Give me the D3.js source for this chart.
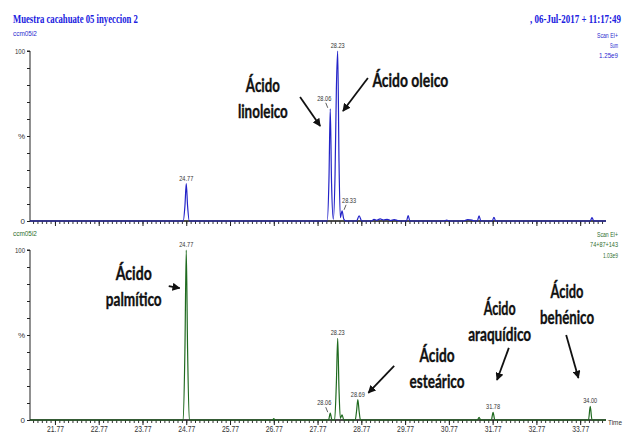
<!DOCTYPE html>
<html>
<head>
<meta charset="utf-8">
<script src="https://cdn.jsdelivr.net/npm/d3@7"></script>
<style>
  html, body { margin: 0; padding: 0; background: #fff; }
  svg { display: block; }
</style>
</head>
<body>
<svg id="chart" width="624" height="436"></svg>
<script>
// Chromatogram traces: [retention time (min), relative abundance (%)]
const ticTrace = [
  [21.20, 0], [24.70, 0], [24.74, 9], [24.77, 22], [24.80, 9], [24.84, 0],
  [27.99, 0], [28.03, 24], [28.06, 66], [28.09, 22], [28.13, 1],
  [28.17, 28], [28.20, 78], [28.23, 100], [28.26, 35], [28.29, 2],
  [28.33, 6], [28.37, 1], [28.42, 0],
  [28.66, 0], [28.72, 3], [28.78, 0],
  [29.00, 0], [29.06, 1], [29.12, 0.4], [29.20, 1.2], [29.28, 0.6], [29.36, 1], [29.44, 0.3],
  [29.52, 0.8], [29.60, 0.3], [29.70, 0],
  [29.80, 0], [29.84, 3.2], [29.88, 0],
  [30.66, 0], [30.72, 0.6], [30.78, 0],
  [31.10, 0], [31.20, 0.8], [31.30, 0.5], [31.36, 0],
  [31.42, 0], [31.46, 3], [31.50, 0],
  [31.76, 0], [31.80, 2.2], [31.84, 0],
  [34.00, 0], [34.04, 2], [34.08, 0], [34.36, 0]
];

const sirTrace = [
  [21.20, 0], [24.70, 0], [24.74, 42], [24.77, 100], [24.80, 42], [24.84, 0],
  [26.74, 0], [26.77, 0.8], [26.80, 0],
  [28.02, 0], [28.06, 4], [28.10, 0], [28.16, 0],
  [28.20, 22], [28.23, 48], [28.26, 18], [28.29, 1],
  [28.33, 3], [28.37, 0],
  [28.63, 0], [28.66, 5], [28.69, 12], [28.72, 5], [28.75, 0],
  [31.42, 0], [31.46, 1.5], [31.50, 0],
  [31.74, 0], [31.78, 4.5], [31.82, 0],
  [33.96, 0], [34.00, 8], [34.04, 0], [34.36, 0]
];

// Labelled peaks (time label, peak height %)
const ticPeaks = [
  { label: "24.77", t: 24.77, v: 22 },
  { label: "28.06", t: 28.06, v: 66, leader: true },
  { label: "28.23", t: 28.23, v: 100 },
  { label: "28.33", t: 28.33, v: 6, leader: true }
];
const sirPeaks = [
  { label: "24.77", t: 24.77, v: 100 },
  { label: "28.06", t: 28.06, v: 4, leader: true },
  { label: "28.23", t: 28.23, v: 48 },
  { label: "28.69", t: 28.69, v: 12 },
  { label: "31.78", t: 31.78, v: 4.5 },
  { label: "34.00", t: 34.00, v: 8 }
];

const timeTickLabels = ["21.77", "22.77", "23.77", "24.77", "25.77", "26.77", "27.77",
                        "28.77", "29.77", "30.77", "31.77", "32.77", "33.77"];

const titleText = "Muestra cacahuate 05 inyeccion 2";
const dateText = ", 06-Jul-2017 + 11:17:49";
const sampleId = "ccm05i2";
const ticInfo = ["Scan EI+", "Sum", "1.25e9"];
const sirInfo = ["Scan EI+", "74+87+143", "1.03e9"];

const svg = d3.select("#chart");
const smallFont = "'Liberation Sans', Arial, sans-serif";
const serifFont = "'Liberation Serif', 'Times New Roman', serif";
const boldFont = "Lato, 'Open Sans', sans-serif";

// Draws a text squeezed horizontally to a given width, anchored at (x, y)
function squeezed(parent, str, xPos, yPos, width, anchor, attrs) {
  const t = parent.append("text").attr("x", 0).attr("y", 0)
    .attr("text-anchor", anchor).text(str);
  Object.entries(attrs).forEach(([k, v]) => t.attr(k, v));
  const natural = t.node().getComputedTextLength();
  t.attr("transform", `translate(${xPos},${yPos}) scale(${width / natural},1)`);
  return t;
}

const x = d3.scaleLinear().domain([21.2, 34.36]).range([30, 606]);

const panels = [
  { trace: ticTrace, peaks: ticPeaks, info: ticInfo, color: "#2323c8", textColor: "#2b2bd0",
    y: d3.scaleLinear().domain([0, 100]).range([221, 51]), idY: 36, infoY: [38, 48, 58] },
  { trace: sirTrace, peaks: sirPeaks, info: sirInfo, color: "#1f6a1f", textColor: "#2e6e2e",
    y: d3.scaleLinear().domain([0, 100]).range([420, 250]), idY: 236, infoY: [237, 247, 258] }
];

// header
const headStyle = { "font-family": serifFont, "font-weight": "bold", "font-size": 12.5, fill: "#2020e0" };
squeezed(svg, titleText, 13, 23, 125, "start", headStyle);
squeezed(svg, dateText, 621, 23, 91, "end", headStyle);

const minorTicks = d3.range(0, 131).map(i => +(21.27 + i * 0.1).toFixed(2));
const majorTicks = timeTickLabels.map(Number);

panels.forEach((p, pi) => {
  const g = svg.append("g");

  // sample id and acquisition info
  const infoStyle = { "font-family": smallFont, "font-size": 8, fill: p.textColor };
  squeezed(g, sampleId, 13, p.idY, 24, "start", infoStyle);
  const infoW = pi === 0 ? [21, 8, 19] : [21, 28, 15];
  p.info.forEach((s, i) => squeezed(g, s, 618, p.infoY[i], infoW[i], "end", infoStyle));

  // y axis
  const yAxis = d3.axisLeft(p.y).tickValues(d3.range(0, 101, 10)).tickSize(3)
    .tickPadding(2)
    .tickFormat(d => d === 100 ? "100" : d === 50 ? "%" : d === 0 ? "0" : "");
  const ya = g.append("g").attr("transform", `translate(${x.range()[0]},0)`).call(yAxis);
  ya.select(".domain").attr("d", `M-3,${p.y(100)}H0V${p.y(0)}`).attr("stroke", "#222");
  ya.selectAll("line").attr("stroke", "#222");
  ya.selectAll("text").attr("font-family", smallFont).attr("font-size", 8)
    .attr("fill", "#333");
  ya.selectAll(".tick").filter(d => d === 100).select("text")
    .attr("textLength", 10).attr("lengthAdjust", "spacingAndGlyphs");

  // x axis: minor ticks every 0.1 min, labelled majors
  const base = p.y(0);
  const xMinor = g.append("g").attr("transform", `translate(0,${base})`)
    .call(d3.axisBottom(x).tickValues(minorTicks).tickSize(3).tickFormat(""));
  xMinor.select(".domain").attr("d", `M${x.range()[0]},0H${x.range()[1]}`).attr("stroke", "#111")
    .attr("stroke-width", 1.3);
  xMinor.selectAll("line").attr("stroke", "#333");
  const xMajor = g.append("g").attr("transform", `translate(0,${base})`)
    .call(d3.axisBottom(x).tickValues(majorTicks).tickSize(5)
      .tickFormat(pi === 1 ? (d => timeTickLabels[majorTicks.indexOf(d)]) : ""));
  xMajor.select(".domain").remove();
  xMajor.selectAll("line").attr("stroke", "#222");
  xMajor.selectAll("text").attr("font-family", smallFont).attr("font-size", 8.5)
    .attr("fill", "#333").attr("dy", "0.5em")
    .attr("textLength", 17).attr("lengthAdjust", "spacingAndGlyphs");

  // trace
  const line = d3.line().x(d => x(d[0])).y(d => p.y(d[1])).curve(d3.curveMonotoneX);
  g.append("path").datum(p.trace).attr("d", line)
    .attr("fill", "none").attr("stroke", p.color).attr("stroke-width", 1.2);

  // peak labels
  p.peaks.forEach(pk => {
    const px = x(pk.t), py = p.y(pk.v);
    let lx = px, ly = py - 3;
    if (pk.leader) {
      const dx = pk.t < 28.2 ? -6 : 7;
      lx = px + dx; ly = py - 8;
      g.append("line")
        .attr("x1", px + (dx < 0 ? -2.5 : 2)).attr("y1", py - 1)
        .attr("x2", px + (dx < 0 ? -4.5 : 4)).attr("y2", py - 6)
        .attr("stroke", "#333").attr("stroke-width", 0.8);
    }
    g.append("text").attr("x", lx).attr("y", ly).attr("text-anchor", "middle")
      .attr("font-family", smallFont).attr("font-size", 7.5).attr("fill", "#333")
      .attr("textLength", 14).attr("lengthAdjust", "spacingAndGlyphs")
      .text(pk.label);
  });
});

squeezed(svg, "Time", 608, 425, 14, "start",
  { "font-family": smallFont, "font-size": 8, fill: "#333" });

// compound annotations with arrows
svg.append("defs").append("marker")
  .attr("id", "head").attr("viewBox", "0 0 10 10").attr("refX", 9).attr("refY", 5)
  .attr("markerWidth", 8).attr("markerHeight", 8).attr("markerUnits", "userSpaceOnUse")
  .attr("orient", "auto")
  .append("path").attr("d", "M0,0L10,5L0,10Z").attr("fill", "#111");

const annotations = [
  { panel: 0, lines: ["Ácido", "linoleico"], at: [26.52, 75.9], widths: [34, 50],
    arrow: [[27.37, 72.9], [27.83, 55.9]] },
  { panel: 0, lines: ["Ácido oleico"], at: [29.89, 78.8], widths: [76],
    arrow: [[28.92, 84.1], [28.35, 64.7]] },
  { panel: 1, lines: ["Ácido", "palmítico"], at: [23.57, 82.4], widths: [36, 56],
    arrow: [[24.37, 78.8], [24.62, 77.6]] },
  { panel: 1, lines: ["Ácido", "esteárico"], at: [30.50, 34.1], widths: [35, 55],
    arrow: [[29.52, 31.8], [28.93, 15.9]] },
  { panel: 1, lines: ["Ácido", "araquídico"], at: [31.93, 61.8], widths: [32, 63],
    arrow: [[32.14, 42.4], [31.87, 23.5]] },
  { panel: 1, lines: ["Ácido", "behénico"], at: [33.47, 71.8], widths: [33, 54],
    arrow: [[33.45, 50], [33.73, 24.7]] }
];

const annStyle = { "font-family": boldFont, "font-weight": "bold", "font-size": 18,
  fill: "#111", stroke: "#111", "stroke-width": 0.35 };
annotations.forEach(a => {
  const p = panels[a.panel];
  const cx = x(a.at[0]), by = p.y(a.at[1]);
  a.lines.forEach((s, i) => {
    squeezed(svg, s, cx, by + i * 26, a.widths[i], "middle", annStyle);
  });
  svg.append("line")
    .attr("x1", x(a.arrow[0][0])).attr("y1", p.y(a.arrow[0][1]))
    .attr("x2", x(a.arrow[1][0])).attr("y2", p.y(a.arrow[1][1]))
    .attr("stroke", "#111").attr("stroke-width", 1.8).attr("marker-end", "url(#head)");
});
</script>
</body>
</html>
